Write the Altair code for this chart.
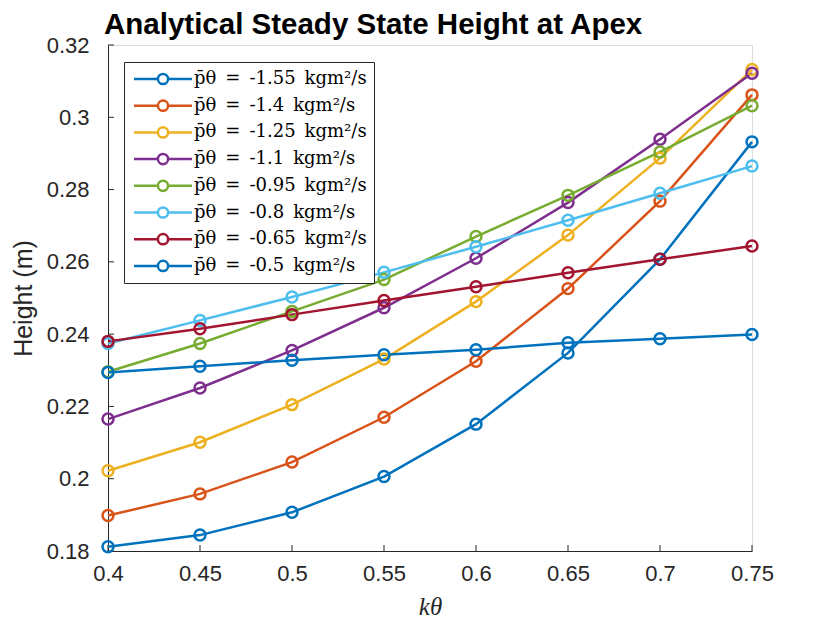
import altair as alt
import pandas as pd

# ---- data ----
k_theta = [0.4, 0.45, 0.5, 0.55, 0.6, 0.65, 0.7, 0.75]
p_theta = ["-1.55", "-1.4", "-1.25", "-1.1", "-0.95", "-0.8", "-0.65", "-0.5"]

h_m155 = [0.1812, 0.1844, 0.1907, 0.2006, 0.2151, 0.2348, 0.2607, 0.2932]
h_m140 = [0.1898, 0.1958, 0.2046, 0.2170, 0.2325, 0.2526, 0.2768, 0.3062]
h_m125 = [0.2022, 0.2101, 0.2205, 0.2331, 0.2490, 0.2674, 0.2887, 0.3132]
h_m110 = [0.2165, 0.2251, 0.2355, 0.2473, 0.2610, 0.2764, 0.2939, 0.3122]
h_m095 = [0.2296, 0.2374, 0.2463, 0.2551, 0.2670, 0.2784, 0.2904, 0.3032]
h_m080 = [0.2374, 0.2438, 0.2503, 0.2571, 0.2642, 0.2715, 0.2790, 0.2865]
h_m065 = [0.2380, 0.2415, 0.2454, 0.2493, 0.2531, 0.2570, 0.2607, 0.2644]
h_m050 = [0.2294, 0.2311, 0.2328, 0.2343, 0.2357, 0.2376, 0.2387, 0.2399]

heights = [h_m155, h_m140, h_m125, h_m110, h_m095, h_m080, h_m065, h_m050]

x_ticks = [0.4, 0.45, 0.5, 0.55, 0.6, 0.65, 0.7, 0.75]
y_ticks = [0.18, 0.2, 0.22, 0.24, 0.26, 0.28, 0.3, 0.32]

colors = ["#0072BD", "#D95319", "#EDB120", "#7E2F8E",
          "#77AC30", "#4DBEEE", "#A2142F", "#0072BD"]

labels = ["p\u0304\u03b8\u2002=\u2002" + p + "\u2002kgm\u00b2/s" for p in p_theta]

rows = []
for i, (lab, hs) in enumerate(zip(labels, heights)):
    for kv, hv in zip(k_theta, hs):
        rows.append({"k": kv, "h": hv, "series": lab, "order": i})
df = pd.DataFrame(rows)

W, H = 644, 506
AX = "#262626"

xscale = alt.Scale(domain=[0.4, 0.75], nice=False, zero=False)
yscale = alt.Scale(domain=[0.18, 0.32], nice=False, zero=False)

legend_symbol = ("M-4.83,0H-0.85M0.85,0H4.83"
                 "M0.85,0A0.85,0.85 0 1,1 -0.85,0A0.85,0.85 0 1,1 0.85,0")

lines = alt.Chart(df).mark_line(
    strokeWidth=2.5,
    point=alt.OverlayMarkDef(filled=False, size=120, strokeWidth=2.5),
).encode(
    x=alt.X("k:Q", scale=xscale,
            axis=alt.Axis(values=x_ticks, format="~g", title="k\u03b8",
                          titleFont="Liberation Serif", titleFontStyle="italic",
                          titleFontWeight="normal", titleFontSize=25,
                          titleColor=AX, titlePadding=10,
                          labelFont="Liberation Sans", labelFontSize=22,
                          labelColor=AX, labelPadding=12, ticks=False,
                          grid=False, domainColor=AX, labelFlush=False)),
    y=alt.Y("h:Q", scale=yscale,
            axis=alt.Axis(values=y_ticks, format="~g", title="Height (m)",
                          titleFont="Liberation Sans", titleFontWeight="normal",
                          titleFontSize=25, titleColor=AX, titlePadding=10,
                          labelFont="Liberation Sans", labelFontSize=22,
                          labelColor=AX, labelPadding=19, ticks=False,
                          grid=False, domainColor=AX, labelFlush=False)),
    color=alt.Color("series:N",
                    scale=alt.Scale(domain=labels, range=colors),
                    legend=alt.Legend(
                        title=None, orient="none", legendX=16, legendY=17,
                        symbolType=legend_symbol, symbolSize=144,
                        symbolStrokeWidth=2.5, symbolOffset=23,
                        symbolFillColor="transparent",
                        labelOffset=22, labelFont="DejaVu Serif",
                        labelFontSize=18, labelColor="black", labelLimit=0,
                        clipHeight=20, rowPadding=6.7, padding=7,
                        strokeColor=AX, fillColor="white")),
    detail="order:O",
)

ytick_df = pd.DataFrame({"v": y_ticks})
xtick_df = pd.DataFrame({"v": x_ticks})

yticks = alt.Chart(ytick_df).mark_rule(color=AX, strokeWidth=1).encode(
    y=alt.Y("v:Q", scale=yscale), x=alt.value(0), x2=alt.value(6))
xticks = alt.Chart(xtick_df).mark_rule(color=AX, strokeWidth=1).encode(
    x=alt.X("v:Q", scale=xscale), y=alt.value(H), y2=alt.value(H - 6))

chart = alt.layer(yticks, xticks, lines).properties(
    width=W, height=H,
    title=alt.TitleParams("Analytical Steady State Height at Apex",
                          font="Liberation Sans", fontSize=29.5,
                          fontWeight="bold", color="black",
                          anchor="start", frame="group", dx=-4, dy=10,
                          offset=4),
    autosize=alt.AutoSizeParams(type="none"),
    padding={"left": 100, "top": 37, "right": 62, "bottom": 70},
).configure_view(stroke=None).configure(background="white")

chart.save("out.html", embed_options={"renderer": "svg", "actions": False})
